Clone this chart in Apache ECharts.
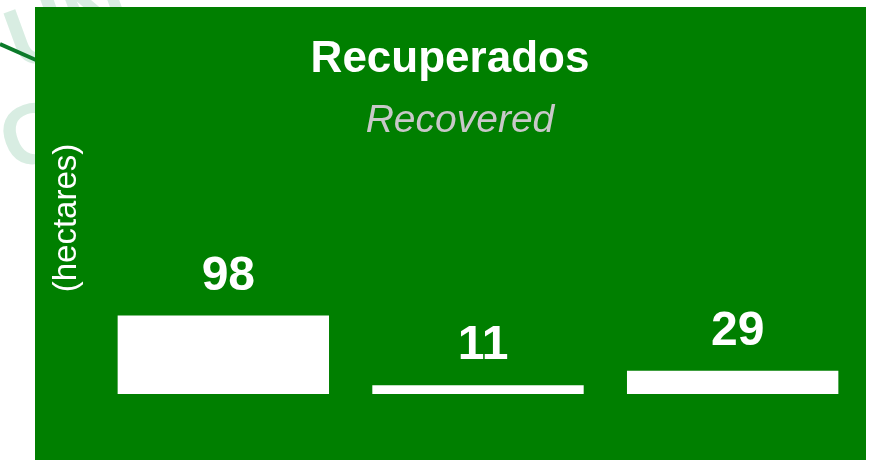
<!DOCTYPE html>
<html>
<head>
<meta charset="utf-8">
<script src="https://cdn.jsdelivr.net/npm/echarts@6/dist/echarts.min.js"></script>
<style>
  html, body { margin: 0; padding: 0; background: #fff; }
  #chart { width: 872px; height: 462px; }
</style>
</head>
<body>
<div id="chart"></div>
<script>
// data
const categories = ['A', 'B', 'C']
const recovered = [98, 11, 29]
const titleText = 'Recuperados'
const subtitleText = 'Recovered'
const unitText = '(hectares)'

const chart = echarts.init(document.getElementById('chart'))

const option = {
  backgroundColor: '#ffffff',
  animation: false,
  title: [
    {
      text: titleText,
      left: 445,
      top: 33,
      textAlign: 'center',
      textStyle: {
        color: '#ffffff',
        fontFamily: 'Liberation Sans, Arial, sans-serif',
        fontWeight: 'bold',
        fontSize: 44
      }
    },
    {
      text: subtitleText,
      left: 455,
      top: 97,
      textAlign: 'center',
      textStyle: {
        color: '#c8c8c8',
        fontFamily: 'Liberation Sans, Arial, sans-serif',
        fontStyle: 'italic',
        fontWeight: 'normal',
        fontSize: 39
      }
    }
  ],
  graphic: [
    // faint watermark behind the panel
    {
      type: 'text',
      x: -4,
      y: 8,
      rotation: 0.35,
      z: -20,
      style: {
        text: 'UN',
        fill: '#d8ede2',
        font: 'bold 86px Liberation Sans, Arial, sans-serif'
      }
    },
    {
      type: 'text',
      x: -10,
      y: 110,
      rotation: 0.35,
      z: -20,
      style: {
        text: 'CU',
        fill: '#d8ede2',
        font: 'bold 86px Liberation Sans, Arial, sans-serif'
      }
    },
    {
      type: 'line',
      z: -5,
      shape: { x1: 0, y1: 44, x2: 36, y2: 60 },
      style: { stroke: '#0b7a2a', lineWidth: 4 }
    },
    {
      type: 'rect',
      z: -1,
      shape: { x: 35, y: 7, width: 831, height: 453 },
      style: { fill: '#007f00' }
    },
    {
      type: 'text',
      x: 67,
      y: 218,
      rotation: Math.PI / 2,
      z: 5,
      style: {
        text: unitText,
        fill: '#ffffff',
        font: '33px Liberation Sans, Arial, sans-serif',
        textAlign: 'center',
        textVerticalAlign: 'middle'
      }
    }
  ],
  grid: {
    left: 96,
    right: 12,
    top: 234,
    bottom: 68
  },
  xAxis: {
    type: 'category',
    data: categories,
    show: false
  },
  yAxis: {
    type: 'value',
    min: 0,
    max: 200,
    show: false
  },
  series: [
    {
      type: 'bar',
      data: recovered,
      barWidth: '83%',
      itemStyle: { color: '#ffffff' },
      label: {
        show: true,
        position: 'top',
        distance: 15,
        offset: [5, 0],
        color: '#ffffff',
        fontFamily: 'Liberation Sans, Arial, sans-serif',
        fontWeight: 'bold',
        fontSize: 48
      }
    }
  ]
}

chart.setOption(option)
</script>
</body>
</html>
